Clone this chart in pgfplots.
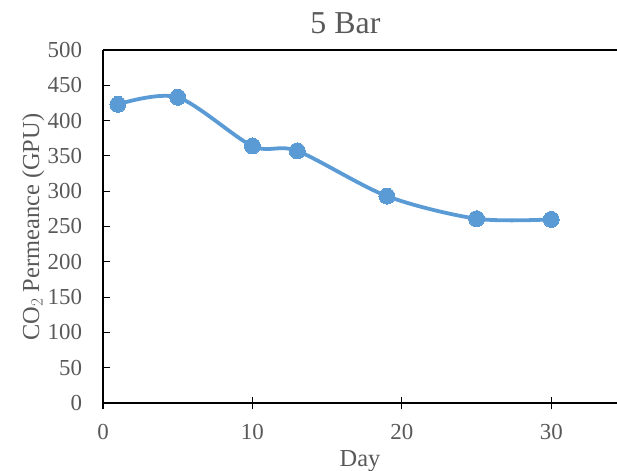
\documentclass[border=0pt]{standalone}
\usepackage{pgfplots}
\pgfplotsset{compat=1.18}
\usepackage{fontspec}
\setmainfont{Liberation Serif}
\definecolor{lineblue}{HTML}{5B9BD5}
\definecolor{txtgray}{HTML}{595959}
\begin{document}
\begin{tikzpicture}
\begin{axis}[
  width=514bp, height=353bp, scale only axis,
  xmin=0, xmax=34.4, ymin=0, ymax=500,
  xtick={0,10,20,30}, ytick={0,50,...,500},
  axis lines*=left,
  axis line style={line width=1.3bp, black, -},
  x tick style={line width=1.1bp, black, /pgfplots/major tick length=12.7bp},
  y tick style={line width=1.1bp, black},
  xtick pos=bottom, ytick pos=left,
  xtick align=center, ytick align=inside,
  major tick length=7bp,
  tick label style={font=\fontsize{23}{26}\selectfont, text=txtgray},
  /pgf/number format/assume math mode=true,
  xticklabel style={anchor=base, yshift=-33bp},
  yticklabel style={anchor=east, xshift=-17.5bp},
  xlabel={Day}, ylabel={CO$_2$ Permeance (GPU)},
  label style={font=\fontsize{24.5}{28}\selectfont, text=txtgray},
  xlabel style={at={(axis description cs:0.5,0)}, anchor=base, yshift=-64bp},
  ylabel style={at={(axis description cs:-0.1245,0.498)}, anchor=base},
  clip=false,
]
\draw[line width=1.3bp, black] (rel axis cs:0,1) -- (rel axis cs:1,1);
\node[font=\fontsize{32}{36}\selectfont, text=txtgray, anchor=base] at (axis description cs:0.4716,1.0473) {5 Bar};
\coordinate (bl) at (axis description cs:-0.2004,-0.1926);
\coordinate (tr) at (axis description cs:1,1.1416);
\addplot[color=lineblue, line width=3.8bp, smooth, tension=0.5,
  mark=*, mark size=8bp, mark options={fill=lineblue, draw=lineblue, line width=0pt}]
  coordinates {(1,423) (5,433) (10,364) (13,357) (19,293) (25,261) (30,260)};
\end{axis}
\pgfresetboundingbox
\useasboundingbox (bl) rectangle (tr);
\end{tikzpicture}
\end{document}
